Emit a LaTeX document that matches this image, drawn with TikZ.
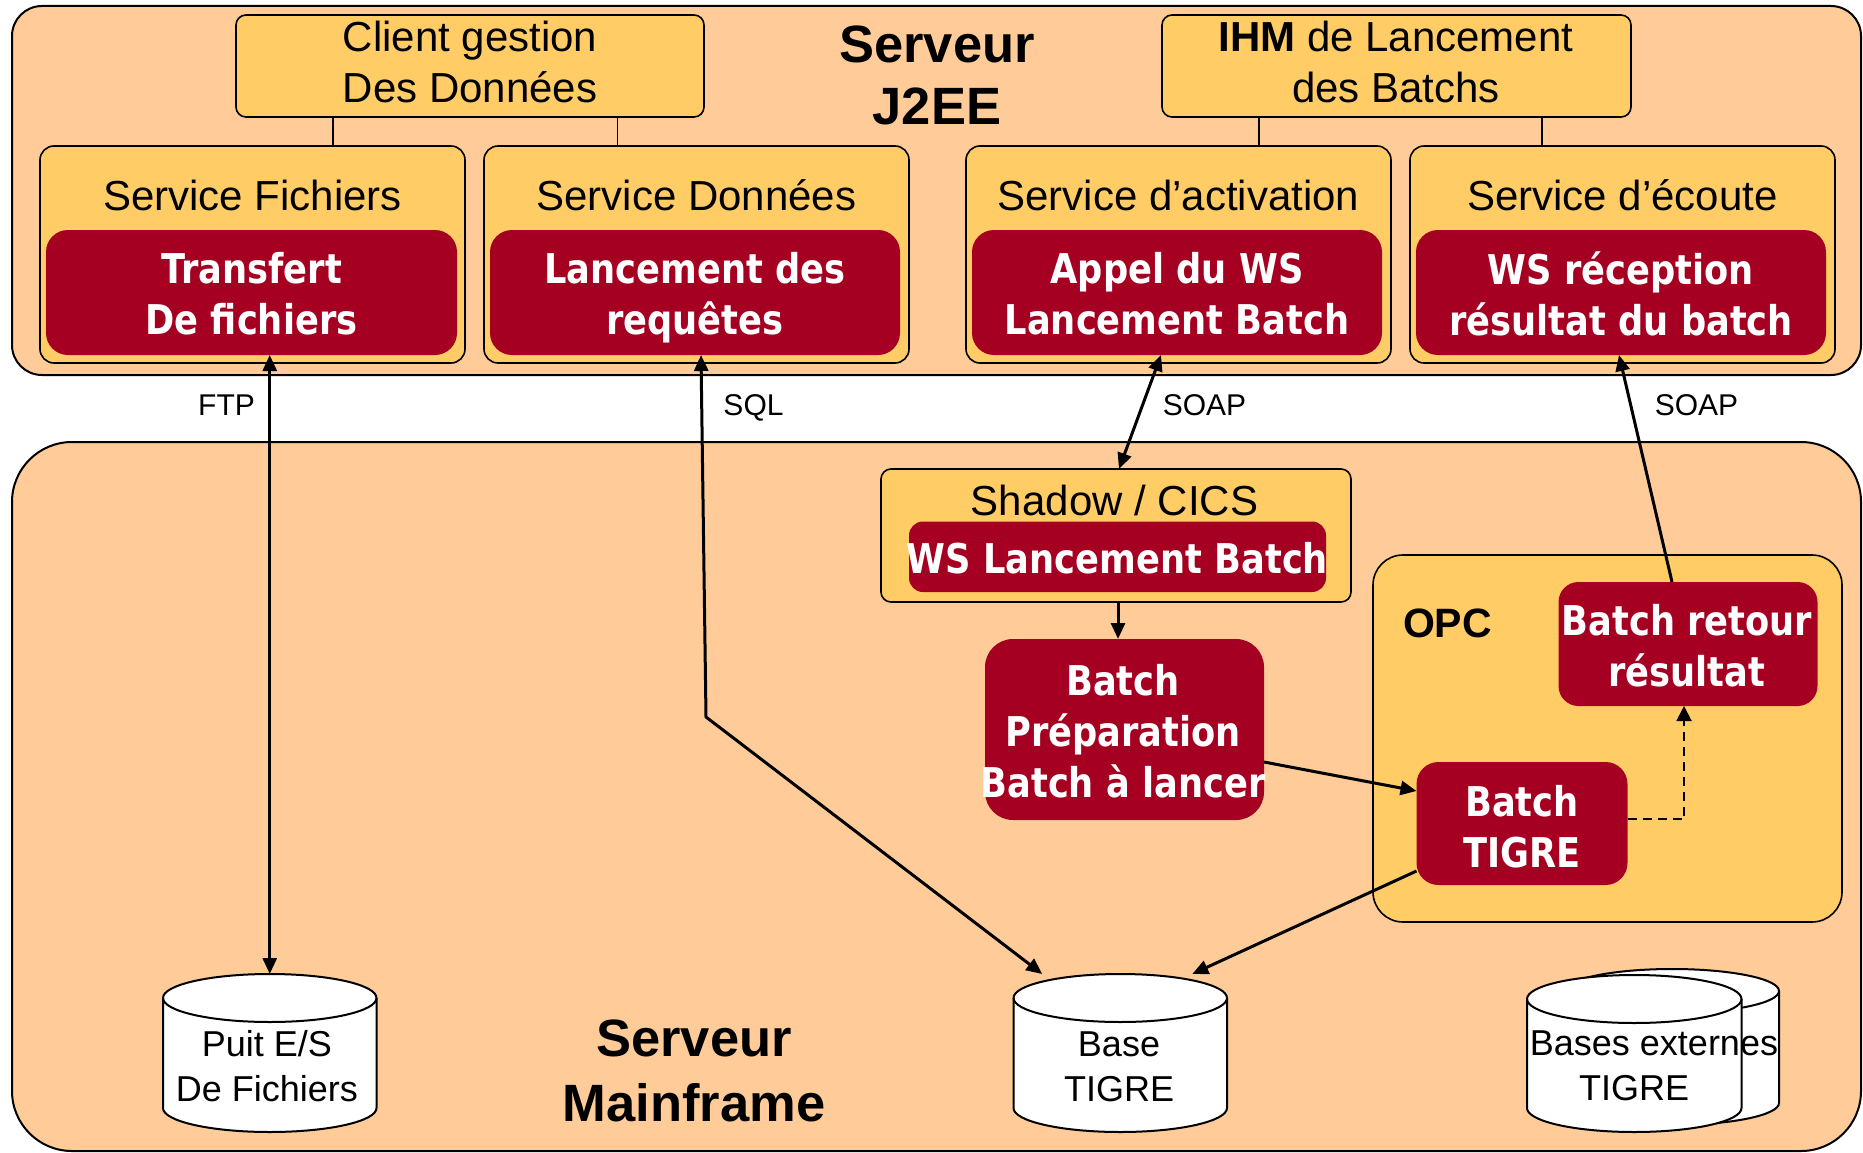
\documentclass[tikz,border=0pt]{standalone}
\usepackage{fontspec}
\setmainfont{Liberation Sans}
\newfontfamily\wsfont{DejaVu Sans}[FakeStretch=0.86]
\usetikzlibrary{arrows.meta}

\definecolor{peach}{HTML}{FFCC99}
\definecolor{gold}{HTML}{FFCC66}
\definecolor{wine}{HTML}{A50021}

% database drum drawn over an invisible rectangular node
\newcommand\drumshape[3]{% node name, x radius, y radius
  \draw[drumline, fill=white] ([yshift=-#3]#1.north west) -- ([yshift=#3]#1.south west)
    arc[start angle=180, end angle=360, x radius=#2, y radius=#3]
    -- ([yshift=-#3]#1.north east)
    arc[start angle=0, end angle=180, x radius=#2, y radius=#3] -- cycle;
  \draw[drumline] ([yshift=-#3]#1.north west)
    arc[start angle=180, end angle=360, x radius=#2, y radius=#3];
}

\tikzset{
  every node/.style={inner sep=0pt, outer sep=0pt},
  struts/.style={execute at begin node=\strut, execute at end node=\strut},
  zone/.style={draw=black, line width=2pt, fill=peach, anchor=north west},
  svc/.style={draw=black, line width=1.6pt, fill=gold, rounded corners=14pt, anchor=north west},
  redbox/.style={fill=wine, rounded corners=22pt, anchor=north west},
  redtext/.style={struts, text=white, align=center, font=\wsfont\bfseries\fontsize{41}{51}\selectfont},
  label42/.style={struts, align=center, font=\fontsize{42}{51}\selectfont},
  proto/.style={struts, font=\fontsize{30}{36}\selectfont},
  titletext/.style={struts, align=center, font=\bfseries\fontsize{52.5}{62}\selectfont},
  opctext/.style={struts, font=\bfseries\fontsize{41}{49}\selectfont},
  drum/.style={anchor=north west},
  drumline/.style={draw=black, line width=2pt},
  drumtext/.style={struts, align=center, font=\fontsize{36}{45}\selectfont},
  tie/.style={line width=1.5pt},
  link/.style={line width=3pt, -{Triangle[length=16pt,width=14pt]}},
  biglink/.style={line width=3pt, {Triangle[length=16pt,width=14pt]}-{Triangle[length=16pt,width=14pt]}},
  weaklink/.style={line width=2pt, dash pattern=on 9pt off 6pt, -{Triangle[length=15pt,width=15pt]}},
}

\begin{document}
\begin{tikzpicture}[x=1pt, y=-1pt]
\useasboundingbox (0,0) rectangle (1863,1153);

% ---- the two servers ----
\node[zone, rounded corners=30pt, minimum width=1849pt, minimum height=369pt] (j2ee) at (12,6) {};
\node[zone, rounded corners=60pt, minimum width=1849pt, minimum height=709pt] (mainframe) at (12,442) {};

\node[titletext] (j2eet) at (937,84.5) {Serveur\\J2EE};
\node[titletext, font=\bfseries\fontsize{52.5}{65}\selectfont] (mft) at (694,1080.5) {Serveur\\Mainframe};

% ---- clients ----
\node[svc, rounded corners=10pt, minimum width=468pt, minimum height=102pt] (client) at (236,15) {};
\node[svc, rounded corners=10pt, minimum width=469pt, minimum height=102pt] (ihm) at (1162,15) {};
\node[label42] (clientt) at (470,69.8) {Client gestion\\Des Données};
\node[label42] (ihmt) at (1396,69.8) {\textbf{IHM} de Lancement\\des Batchs};

% ---- services ----
\node[svc, minimum width=425pt, minimum height=217pt] (sf) at (40,146) {};
\node[svc, minimum width=425pt, minimum height=217pt] (sd) at (484,146) {};
\node[svc, minimum width=425pt, minimum height=217pt] (sa) at (966,146) {};
\node[svc, minimum width=425pt, minimum height=217pt] (se) at (1410,146) {};

\node[label42] (sft) at ([yshift=-54pt]sf.north) {Service Fichiers};
\node[label42] (sdt) at ([yshift=-54pt]sd.north) {Service Données};
\node[label42] (sat) at ([yshift=-54pt]sa.north) {Service d’activation};
\node[label42] (set) at ([yshift=-54pt]se.north) {Service d’écoute};

\node[redbox, minimum width=411pt, minimum height=125pt] (tf) at (46,230) {};
\node[redbox, minimum width=410pt, minimum height=125pt] (lr) at (490,230) {};
\node[redbox, minimum width=410pt, minimum height=125pt] (aw) at (972,230) {};
\node[redbox, minimum width=410pt, minimum height=125pt] (wr) at (1416,230) {};

\node[redtext] (tft) at ([yshift=-9pt]tf.center) {Transfert\\De fichiers};
\node[redtext] (lrt) at ([yshift=-9pt]lr.center) {Lancement des\\requêtes};
\node[redtext] (awt) at ([yshift=-9pt]aw.center) {Appel du WS\\Lancement Batch};
\node[redtext] (wrt) at ([yshift=-9pt]wr.center) {WS réception\\résultat du batch};

% client-to-service ties
\coordinate (t1) at ([xshift=97pt]client.south west);
\coordinate (t2) at ([xshift=381.5pt]client.south west);
\coordinate (t3) at ([xshift=97pt]ihm.south west);
\coordinate (t4) at ([xshift=380pt]ihm.south west);
\draw[tie] (t1) -- (t1 |- sf.north);
\draw[tie] (t2) -- (t2 |- sd.north);
\draw[tie] (t3) -- (t3 |- sa.north);
\draw[tie] (t4) -- (t4 |- se.north);

% ---- mainframe side ----
\node[svc, rounded corners=10pt, minimum width=470pt, minimum height=133pt] (shadow) at (881,469) {};
\node[label42] (shadowt) at ([xshift=-1.5pt, yshift=-36pt]shadow.north) {Shadow / CICS};
\node[redbox, rounded corners=14pt, minimum width=417pt, minimum height=70.5pt] (wsl) at (909,521.5) {};
\node[redtext] (wslt) at ([yshift=-6.8pt]wsl.center) {WS Lancement Batch};

\node[redbox, rounded corners=28pt, minimum width=279pt, minimum height=181pt] (prep) at (985,639) {};
\node[redtext] (prept) at ([xshift=-1.5pt, yshift=-9.3pt]prep.center) {Batch\\Préparation\\Batch à lancer};

\node[svc, rounded corners=30pt, minimum width=469pt, minimum height=367pt] (opc) at (1373,555) {};
\node[opctext] (opct) at (1447.5,628) {OPC};

\node[redbox, rounded corners=20pt, minimum width=259pt, minimum height=124pt] (br) at (1558.5,582) {};
\node[redtext] (brt) at ([xshift=-1pt, yshift=-9.3pt]br.center) {Batch retour\\résultat};
\node[redbox, rounded corners=22pt, minimum width=211pt, minimum height=123pt] (bt) at (1416.5,762) {};
\node[redtext] (btt) at ([yshift=-10.8pt]bt.center) {Batch\\TIGRE};

% ---- databases ----
\node[drum, minimum width=213.5pt, minimum height=158pt] (puit) at (163,974) {};
\drumshape{puit}{106.75pt}{24pt}
\node[drumtext] (puitt) at (267,1073) {Puit E/S\\De Fichiers};

\node[drum, minimum width=213.5pt, minimum height=158pt] (base) at (1013.5,974) {};
\drumshape{base}{106.75pt}{24pt}
\node[drumtext] (baset) at (1119,1073) {Base\\TIGRE};

\node[drum, minimum width=214pt, minimum height=156pt] (extback) at (1565,969) {};
\drumshape{extback}{107pt}{22pt}
\node[drum, minimum width=214.5pt, minimum height=157pt] (ext) at (1527,975) {};
\drumshape{ext}{107.25pt}{24pt}
\node[drumtext] (extt) at (1654,1072.5) {Bases externes\\\hspace*{-40pt}TIGRE};

% ---- flows ----
\draw[biglink] (tf.south -| puit.north) -- (puit.north);

\coordinate (sqlbend) at (706,717);
\draw[biglink, line join=miter] ([xshift=6pt]lr.south) -- (sqlbend) -- ([xshift=-78pt]base.north);

\draw[biglink] ([xshift=-16pt]aw.south) -- ([xshift=3pt]shadow.north);
\draw[link] ([xshift=2pt]shadow.south) -- ([xshift=2pt]shadow.south |- prep.north);
\draw[link] ([yshift=-32.5pt]prep.east) -- ([yshift=32.5pt]bt.west);
\draw[weaklink] ([yshift=4.5pt]bt.east) -| ([xshift=-4pt]br.south);
\draw[link] ([xshift=-16pt]br.north) -- ([xshift=-2pt]wr.south);
\draw[link] ([yshift=14pt]bt.south west) -- ([xshift=72pt]base.north);

% protocol labels
\node[proto] (ftp) at (226.5,408.5) {FTP};
\node[proto] (sql) at (753.5,408.5) {SQL};
\node[proto] (soapa) at (1204.5,408.5) {SOAP};
\node[proto] (soapb) at (1696.5,408.5) {SOAP};
\end{tikzpicture}
\end{document}
